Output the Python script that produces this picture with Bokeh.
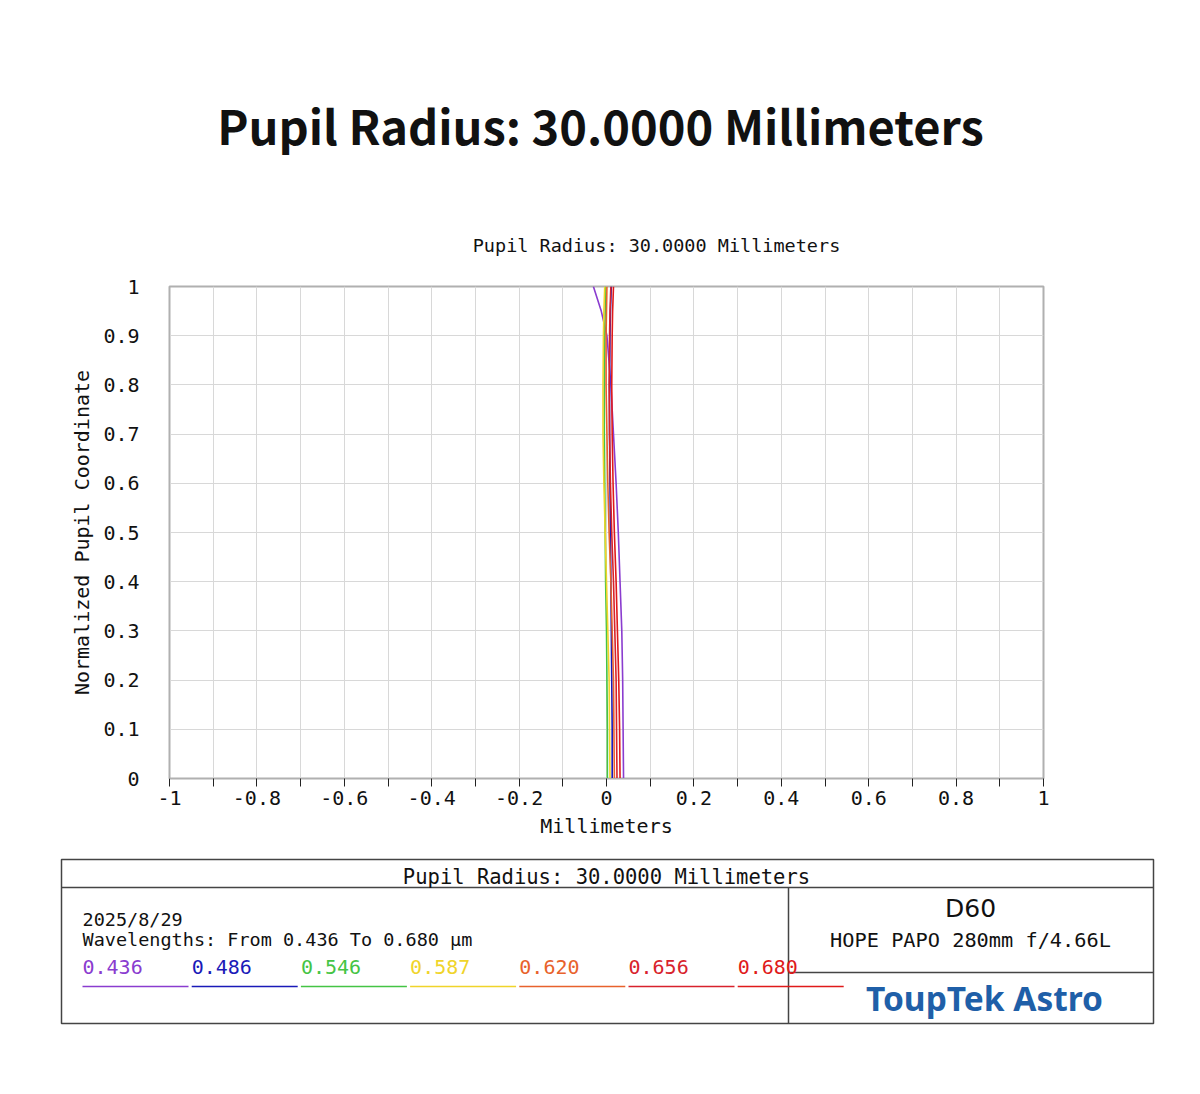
from bokeh.plotting import figure
from bokeh.models import Range1d, FixedTicker
from bokeh.core.properties import value
from bokeh.embed import file_html
from bokeh.resources import INLINE

TITLE = "Pupil Radius: 30.0000 Millimeters"
MONO = "DejaVu Sans Mono"

# ---- data ----
pupil = [0.0, 0.1, 0.2, 0.3, 0.4, 0.5, 0.6, 0.7, 0.8, 0.9, 0.95, 1.0]
fan_0436 = [0.039, 0.038, 0.037, 0.035, 0.031, 0.027, 0.022, 0.016, 0.010, 0.001, -0.012, -0.030]
fan_0486 = [0.013, 0.013, 0.012, 0.011, 0.010, 0.009, 0.008, 0.007, 0.007, 0.008, 0.009, 0.011]
fan_0546 = [0.002, 0.002, 0.001, 0.000, -0.002, -0.003, -0.004, -0.005, -0.005, -0.004, -0.003, -0.002]
fan_0587 = [0.008, 0.007, 0.006, 0.003, 0.000, -0.003, -0.006, -0.008, -0.008, -0.007, -0.006, -0.004]
fan_0620 = [0.018, 0.017, 0.016, 0.013, 0.010, 0.006, 0.003, 0.001, -0.001, -0.001, 0.000, 0.001]
fan_0656 = [0.024, 0.023, 0.022, 0.019, 0.016, 0.012, 0.009, 0.007, 0.006, 0.007, 0.008, 0.010]
fan_0680 = [0.031, 0.030, 0.028, 0.025, 0.022, 0.018, 0.015, 0.013, 0.012, 0.013, 0.014, 0.016]

wavelengths = ["0.436", "0.486", "0.546", "0.587", "0.620", "0.656", "0.680"]
series = [fan_0436, fan_0486, fan_0546, fan_0587, fan_0620, fan_0656, fan_0680]
colors = ["#8a3ccf", "#1a1ab8", "#44c444", "#f0d42a", "#e8622c", "#d8222c", "#e01a1a"]

x_ticks = [-1.0, -0.9, -0.8, -0.7, -0.6, -0.5, -0.4, -0.3, -0.2, -0.1, 0.0,
           0.1, 0.2, 0.3, 0.4, 0.5, 0.6, 0.7, 0.8, 0.9, 1.0]
x_tick_labels = ["-1", "", "-0.8", "", "-0.6", "", "-0.4", "", "-0.2", "", "0",
                 "", "0.2", "", "0.4", "", "0.6", "", "0.8", "", "1"]
y_ticks = [0.0, 0.1, 0.2, 0.3, 0.4, 0.5, 0.6, 0.7, 0.8, 0.9, 1.0]
y_tick_labels = ["0", "0.1", "0.2", "0.3", "0.4", "0.5", "0.6", "0.7", "0.8", "0.9", "1"]

date_text = "2025/8/29"
wl_text = "Wavelengths: From 0.436 To 0.680 \u00b5m"
lens_name = "D60"
lens_desc = "HOPE PAPO 280mm f/4.66L"
brand = "ToupTek Astro"


def canvas(h, y0):
    f = figure(width=1200, height=h, x_range=Range1d(0, 1200), y_range=Range1d(y0 + h, y0),
               output_backend="svg", toolbar_location=None, min_border=0)
    f.axis.visible = False
    f.grid.visible = False
    f.outline_line_color = None
    return f


# ---- title canvas ----
t = canvas(262, 0)
t.text(x=[600], y=[124], text=[TITLE], text_font=value("Noto Sans CJK SC"),
       text_font_style="bold", text_font_size="47px", text_align="center",
       text_baseline="middle", text_color="#111111")
t.text(x=[656], y=[245], text=[TITLE], text_font=value(MONO),
       text_font_size="18.5px", text_align="center", text_baseline="middle",
       text_color="#111111")

# ---- main chart ----
p = figure(frame_width=874, frame_height=492, x_range=Range1d(-1, 1), y_range=Range1d(0, 1),
           output_backend="svg", toolbar_location=None,
           min_border_left=169, min_border_right=157, min_border_top=24, min_border_bottom=72)
p.outline_line_color = "#b0b0b0"
p.outline_line_width = 2

for ys, c in zip(series, colors):
    p.line(x=ys, y=pupil, line_color=c, line_width=1.6)

p.xaxis.ticker = FixedTicker(ticks=x_ticks)
p.yaxis.ticker = FixedTicker(ticks=y_ticks)
p.xaxis.major_label_overrides = {v: l for v, l in zip(x_ticks, x_tick_labels)}
p.yaxis.major_label_overrides = {v: l for v, l in zip(y_ticks, y_tick_labels)}
p.xaxis.minor_tick_line_color = None
p.yaxis.minor_tick_line_color = None
p.xgrid.ticker = FixedTicker(ticks=x_ticks)
p.ygrid.ticker = FixedTicker(ticks=y_ticks)
p.grid.grid_line_color = "#d8d8d8"
p.grid.grid_line_width = 1

p.xaxis.axis_line_color = "#b0b0b0"
p.xaxis.major_tick_line_color = "#222222"
p.xaxis.major_tick_out = 8
p.xaxis.major_tick_in = 0
p.xaxis.major_label_standoff = 4
p.xaxis.axis_label = "Millimeters"
p.xaxis.axis_label_standoff = 6

p.yaxis.axis_line_color = "#b0b0b0"
p.yaxis.major_tick_line_color = None
p.yaxis.major_tick_out = 0
p.yaxis.major_tick_in = 0
p.yaxis.major_label_standoff = 30
p.yaxis.axis_label = "Normalized Pupil Coordinate"
p.yaxis.axis_label_standoff = 6

for ax in (p.xaxis, p.yaxis):
    ax.major_label_text_font = MONO
    ax.major_label_text_font_size = "20px"
    ax.major_label_text_color = "#111111"
    ax.axis_label_text_font = MONO
    ax.axis_label_text_font_size = "20px"
    ax.axis_label_text_font_style = "normal"
    ax.axis_label_text_color = "#111111"

# ---- info box ----
b = canvas(244, 850)
b.quad(left=[61], right=[1153], top=[859], bottom=[1023], fill_color=None,
       line_color="#444444", line_width=1.5)
b.segment(x0=[61, 788, 788], y0=[887, 887, 972], x1=[1153, 788, 1153], y1=[887, 1023, 972],
          line_color="#444444", line_width=1.5)
b.text(x=[606], y=[876], text=[TITLE], text_font=value(MONO), text_font_size="20.5px",
       text_align="center", text_baseline="middle", text_color="#111111")
b.text(x=[82, 82], y=[919, 939], text=[date_text, wl_text], text_font=value(MONO),
       text_font_size="18.5px", text_align="left", text_baseline="middle", text_color="#111111")

leg_x = [82 + 109.2 * i for i in range(len(wavelengths))]
b.text(x=leg_x, y=[966] * len(wavelengths), text=wavelengths, text_color=colors,
       text_font=value(MONO), text_font_size="20px", text_align="left", text_baseline="middle")
b.segment(x0=leg_x, x1=[v + 106 for v in leg_x], y0=[986] * len(wavelengths),
          y1=[986] * len(wavelengths), line_color=colors, line_width=1.5)

b.text(x=[970], y=[908], text=[lens_name], text_font=value("DejaVu Sans"),
       text_font_size="25px", text_align="center", text_baseline="middle", text_color="#111111")
b.text(x=[970], y=[939], text=[lens_desc], text_font=value(MONO),
       text_font_size="20.3px", text_align="center", text_baseline="middle", text_color="#111111")
b.text(x=[984], y=[997], text=[brand], text_font=value("Noto Sans"), text_font_style="bold",
       text_font_size="33.5px", text_align="center", text_baseline="middle", text_color="#1f5fa8")

open("out.html", "w").write(file_html([t, p, b], INLINE))
